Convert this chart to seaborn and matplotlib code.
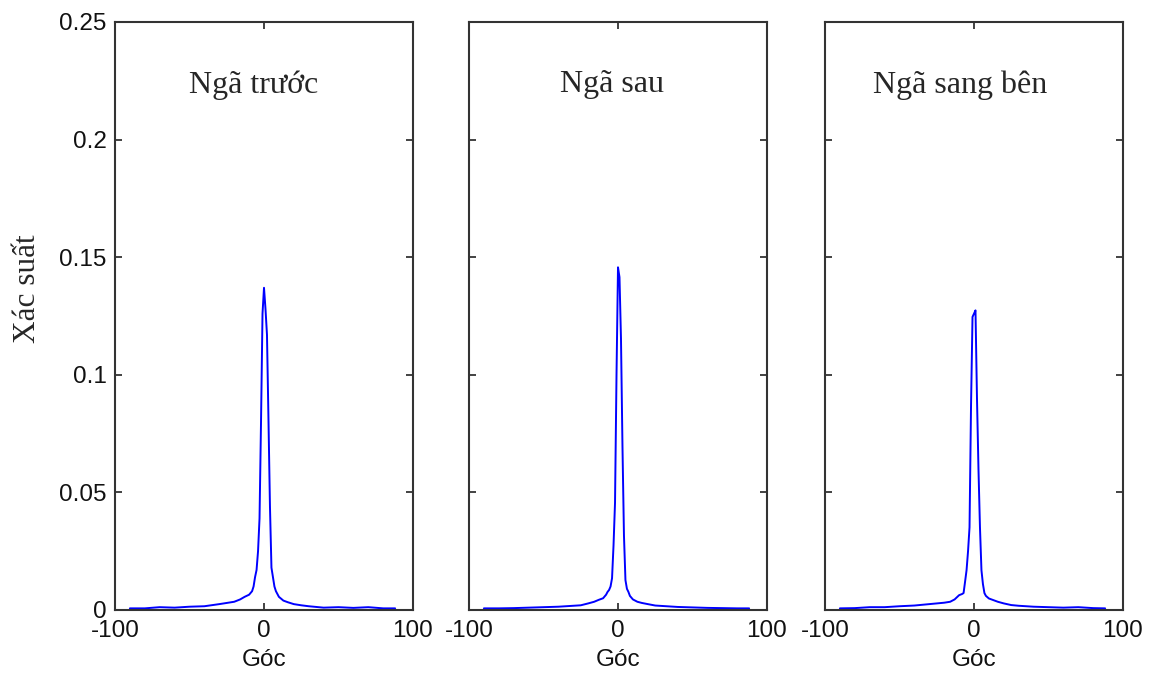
import numpy as np
import pandas as pd
import matplotlib
matplotlib.use("Agg")
import matplotlib.pyplot as plt
import seaborn as sns

# ---- data ----
angles = [-90, -80, -70, -60, -50, -40, -30, -25, -20, -16, -13, -10, -8, -7, -6, -5, -4, -3, -2, -1,
          0, 1, 2, 3, 4, 5, 6, 7, 8, 10, 13, 16, 20, 25, 30, 40, 50, 60, 70, 80, 88]

nga_truoc = [0.0007, 0.0007, 0.0012, 0.0010, 0.0014, 0.0016, 0.0025, 0.0030, 0.0035, 0.0045, 0.0056,
             0.0065, 0.0080, 0.0100, 0.0140, 0.0170, 0.0250, 0.0390, 0.0800, 0.1260,
             0.1370, 0.1280, 0.1170, 0.0810, 0.0440, 0.0180, 0.0140, 0.0100, 0.0080, 0.0056, 0.0040,
             0.0033, 0.0025, 0.0020, 0.0016, 0.0010, 0.0012, 0.0009, 0.0012, 0.0007, 0.0007]

nga_sau = [0.0007, 0.0007, 0.0008, 0.0010, 0.0012, 0.0014, 0.0018, 0.0020, 0.0028, 0.0035, 0.0043,
           0.0050, 0.0065, 0.0077, 0.0085, 0.0100, 0.0135, 0.0275, 0.0456, 0.1000,
           0.1457, 0.1415, 0.1155, 0.0697, 0.0317, 0.0127, 0.0090, 0.0077, 0.0060, 0.0045, 0.0035,
           0.0030, 0.0025, 0.0019, 0.0017, 0.0013, 0.0011, 0.0009, 0.0008, 0.0007, 0.0007]

nga_sang_ben = [0.0007, 0.0008, 0.0012, 0.0012, 0.0016, 0.0019, 0.0025, 0.0028, 0.0031, 0.0035, 0.0045,
                0.0063, 0.0068, 0.0072, 0.0120, 0.0169, 0.0250, 0.0352, 0.0866, 0.1246,
                0.1260, 0.1274, 0.0901, 0.0600, 0.0352, 0.0169, 0.0110, 0.0072, 0.0060, 0.0049, 0.0042,
                0.0035, 0.0028, 0.0021, 0.0018, 0.0014, 0.0012, 0.0010, 0.0012, 0.0008, 0.0007]

titles = ["Ngã trước", "Ngã sau", "Ngã sang bên"]
series = [nga_truoc, nga_sau, nga_sang_ben]
x_ticks = [-100, 0, 100]
y_ticks = [0, 0.05, 0.1, 0.15, 0.2, 0.25]
y_tick_labels = ["0", "0.05", "0.1", "0.15", "0.2", "0.25"]
x_label = "Góc"
y_label = "Xác suất"

# ---- style ----
sns.set_style("white")
plt.rcParams["font.family"] = ["Liberation Sans", "DejaVu Sans"]

W, H = 1156, 682
fig = plt.figure(figsize=(W / 100, H / 100), dpi=100)

lefts = [115, 469, 825]
ax_w = 298
top, bottom = 22, 610
title_x = [0.465, 0.48, 0.455]
serif = ["Liberation Serif", "DejaVu Serif"]

for i, (left, vals, title) in enumerate(zip(lefts, series, titles)):
    ax = fig.add_axes([left / W, 1 - bottom / H, ax_w / W, (bottom - top) / H])
    df = pd.DataFrame({"angle": angles, "p": vals})
    sns.lineplot(data=df, x="angle", y="p", ax=ax, color="#0000ff", linewidth=1.4)
    ax.set_xlim(-100, 100)
    ax.set_ylim(0, 0.25)
    ax.set_xticks(x_ticks)
    ax.set_xticklabels([str(t) for t in x_ticks], fontsize=17.5, color="#111111")
    ax.set_yticks(y_ticks)
    if i == 0:
        ax.set_yticklabels(y_tick_labels, fontsize=17.5, color="#111111")
        ax.set_ylabel(y_label, family=serif, fontsize=22.5)
        ax.yaxis.set_label_coords(-0.245, 0.546)
    else:
        ax.set_yticklabels([])
        ax.set_ylabel("")
    ax.set_xlabel(x_label, fontsize=17.5, color="#111111", labelpad=5)
    ax.tick_params(direction="in", length=5, width=1.2, color="#222222",
                   top=True, right=True, bottom=True, left=True, pad=7)
    ax.tick_params(axis="y", pad=6)
    for s in ax.spines.values():
        s.set_visible(True)
        s.set_color("#333333")
        s.set_linewidth(1.5)
    ax.text(title_x[i], 0.893, title, transform=ax.transAxes, ha="center", va="center",
            family=serif, fontsize=23)
    ax.grid(False)

fig.savefig("out.png", dpi=100)
